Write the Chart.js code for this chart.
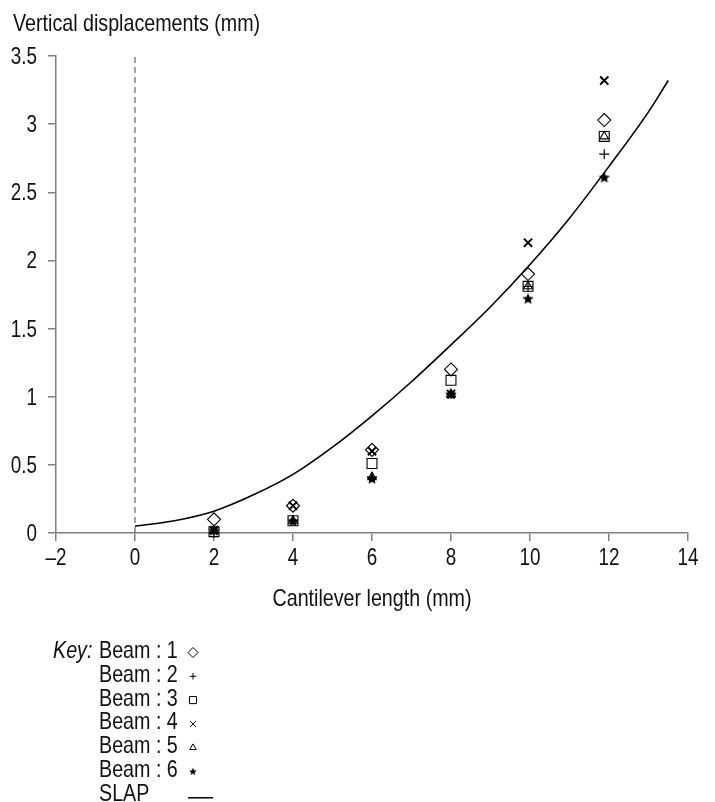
<!DOCTYPE html>
<html><head><meta charset="utf-8">
<script src="https://cdn.jsdelivr.net/npm/chart.js@4.4.0/dist/chart.umd.min.js"></script>
<style>
html,body{margin:0;padding:0;background:#fff;}
#wrap{position:relative;width:715px;height:802px;overflow:hidden;}
#c{position:absolute;left:0;top:0;}
#txt{position:absolute;left:0;top:0;width:715px;height:802px;pointer-events:none;}
.t{position:absolute;font-family:'Liberation Sans',Arial,sans-serif;color:#111;white-space:nowrap;}
</style></head><body>
<div id="wrap"><canvas id="c" width="715" height="802"></canvas><div id="txt"></div></div>
<script>
// ---- data ----
const xPositions = [2, 4, 6, 8, 9.95, 11.88];
const beam1 = [0.10, 0.20, 0.61, 1.20, 1.90, 3.03];
const beam2 = [0.00, 0.09, 0.41, 1.02, 1.81, 2.78];
const beam3 = [0.01, 0.09, 0.51, 1.12, 1.81, 2.91];
const beam4 = [0.02, 0.20, 0.60, 1.02, 2.13, 3.32];
const beam5 = [0.02, 0.09, 0.41, 1.02, 1.81, 2.91];
const beam6 = [0.02, 0.09, 0.40, 1.02, 1.72, 2.61];
const slapX = [0, 1, 2, 3, 4, 5, 6, 7, 8, 9, 10, 11, 12, 13, 13.5];
const slapY = [0.05, 0.09, 0.16, 0.28, 0.43, 0.63, 0.86, 1.11, 1.38, 1.66, 1.97, 2.31, 2.69, 3.09, 3.32];
const zeroLineX = [0, 0];
const zeroLineY = [0, 3.5];
const xTickValues = [-2, 0, 2, 4, 6, 8, 10, 12, 14];
const xTickLabels = ['\u20132', '0', '2', '4', '6', '8', '10', '12', '14'];
const yTickValues = [0, 0.5, 1, 1.5, 2, 2.5, 3, 3.5];
const yTickLabels = ['0', '0.5', '1', '1.5', '2', '2.5', '3', '3.5'];
const beamNames = ['Beam : 1', 'Beam : 2', 'Beam : 3', 'Beam : 4', 'Beam : 5', 'Beam : 6'];
const yTitle = 'Vertical displacements (mm)';
const xTitle = 'Cantilever length (mm)';

const AXIS = '#808080';
const NARROW = 0.82;

function starImg(r){
  const s = Math.ceil(r*2+2);
  const c = document.createElement('canvas'); c.width = s; c.height = s;
  const g = c.getContext('2d'); g.translate(s/2, s/2 + r*0.08);
  g.beginPath();
  for (let i=0;i<10;i++){ const rr = i%2 ? r*0.45 : r; const a = -Math.PI/2 + i*Math.PI/5; g.lineTo(rr*Math.cos(a), rr*Math.sin(a)); }
  g.closePath(); g.fillStyle = '#000'; g.fill();
  return c;
}
const starBig = starImg(6);
const starSmall = starImg(4);

const styles = [
  {pointStyle:'rectRot', radius:6.5, bw:1.1, keyR:5},
  {pointStyle:'cross', radius:5, bw:1.2, keyR:3.2},
  {pointStyle:'rect', radius:7, bw:1.1, keyR:5},
  {pointStyle:'crossRot', radius:5.8, bw:2, keyR:4.2},
  {pointStyle:'triangle', radius:5, bw:1.1, keyR:3.8},
  {pointStyle:starBig, radius:6, bw:1, keyR:4, keyImg:starSmall}
];
const beams = [beam1, beam2, beam3, beam4, beam5, beam6];

const datasets = beams.map((b, i) => ({
  label: beamNames[i],
  data: b.map((v, j) => ({x: xPositions[j], y: v})),
  showLine: false,
  pointStyle: styles[i].pointStyle,
  pointRadius: styles[i].radius,
  pointBorderWidth: styles[i].bw,
  pointBorderColor: '#000',
  pointBackgroundColor: 'rgba(0,0,0,0)',
  clip: false
}));
datasets.push({
  label: 'SLAP',
  data: slapX.map((x, i) => ({x, y: slapY[i]})),
  showLine: true, pointRadius: 0, borderColor: '#000', borderWidth: 1.6,
  cubicInterpolationMode: 'monotone', fill: false, clip: false
});
datasets.push({
  label: 'zero',
  data: zeroLineX.map((x, i) => ({x, y: zeroLineY[i]})),
  showLine: true, pointRadius: 0, borderColor: '#444', borderWidth: 1,
  borderDash: [6, 4], fill: false, clip: false
});

// ---- real-text layer (narrow sans, like the reference) ----
const layer = document.getElementById('txt');
function mk(txt, x, y, align, size, italic){
  const d = document.createElement('div'); d.className = 't'; d.textContent = txt;
  d.style.fontSize = size + 'px'; d.style.lineHeight = size + 'px';
  d.style.left = x + 'px'; d.style.top = y + 'px';
  const tx = align === 'center' ? '-50%' : align === 'right' ? '-100%' : '0';
  d.style.transformOrigin = align === 'center' ? '50% 50%' : align === 'right' ? '100% 50%' : '0 50%';
  d.style.transform = 'translate(' + tx + ',-50%) scaleX(' + NARROW + ')';
  if (italic) d.style.fontStyle = 'italic';
  layer.appendChild(d);
}

const keyTop = 650, keyStep = 23.8, keyLabelX = 99, keyMarkX = 193;

const textPlugin = {
  id: 'textLayer',
  afterRender(chart){
    if (layer.dataset.done) return; layer.dataset.done = '1';
    const xs = chart.scales.x, ys = chart.scales.y, ca = chart.chartArea;
    mk(yTitle, 13, 22.5, 'left', 24);
    xTickValues.forEach((v, i) => mk(xTickLabels[i], xs.getPixelForValue(v), 557, 'center', 23));
    yTickValues.forEach((v, i) => mk(yTickLabels[i], ca.left - 19, ys.getPixelForValue(v), 'right', 23));
    mk(xTitle, (ca.left + ca.right) / 2, 598, 'center', 24);
    mk('Key:', 53, keyTop, 'left', 24, true);
    beamNames.forEach((n, i) => mk(n, keyLabelX, keyTop + i*keyStep, 'left', 24));
    mk('SLAP', keyLabelX, keyTop + 6*keyStep, 'left', 24);
  }
};

const keyPlugin = {
  id: 'keyMarks',
  afterDraw(chart){
    const ctx = chart.ctx;
    ctx.save();
    styles.forEach((st, i) => {
      const y = keyTop + i*keyStep + 2.5;
      if (st.keyImg){
        ctx.drawImage(st.keyImg, keyMarkX - st.keyImg.width/2, y - st.keyImg.height/2);
      } else {
        ctx.strokeStyle = '#000'; ctx.fillStyle = 'rgba(0,0,0,0)'; ctx.lineWidth = 1;
        Chart.helpers.drawPoint(ctx, {pointStyle: st.pointStyle, radius: st.keyR, borderWidth: 1, rotation: 0}, keyMarkX, y);
      }
    });
    const ly = keyTop + 6*keyStep + 5;
    ctx.strokeStyle = '#000'; ctx.lineWidth = 1.5;
    ctx.beginPath(); ctx.moveTo(188, ly); ctx.lineTo(213, ly); ctx.stroke();
    ctx.restore();
  }
};

new Chart(document.getElementById('c'), {
  type: 'scatter',
  data: {datasets},
  plugins: [keyPlugin, textPlugin],
  options: {
    responsive: false, animation: false,
    layout: {padding: {left: 13, right: 27, top: 56, bottom: 189}},
    plugins: {legend: {display: false}, tooltip: {enabled: false}, title: {display: false}},
    scales: {
      x: {
        type: 'linear', min: -2, max: 14,
        afterBuildTicks: s => { s.ticks = xTickValues.map(v => ({value: v})); },
        ticks: {display: false},
        grid: {drawOnChartArea: false, drawTicks: true, tickLength: 8, color: AXIS, lineWidth: 1.5},
        border: {display: true, color: AXIS, width: 1.5},
        title: {display: false},
        afterFit: s => { s.height = 80; }
      },
      y: {
        type: 'linear', min: 0, max: 3.5,
        afterBuildTicks: s => { s.ticks = yTickValues.map(v => ({value: v})); },
        ticks: {display: false},
        grid: {drawOnChartArea: false, drawTicks: true, tickLength: 8, color: AXIS, lineWidth: 1.5},
        border: {display: true, color: AXIS, width: 1.5},
        afterFit: s => { s.width = 43; }
      }
    }
  }
});
</script>
</body></html>
